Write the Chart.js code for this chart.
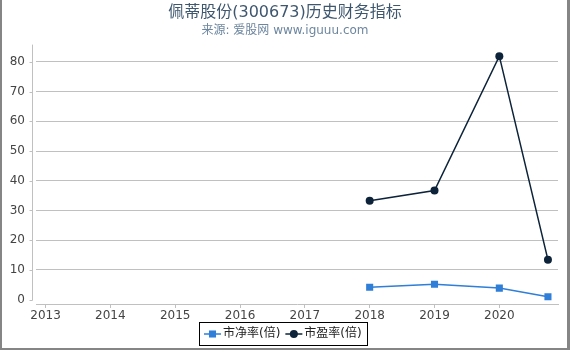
<!DOCTYPE html>
<html>
<head>
<meta charset="utf-8">
<script src="https://cdn.jsdelivr.net/npm/chart.js@4/dist/chart.umd.min.js"></script>
<style>
  html, body { margin: 0; padding: 0; background: #fff; }
</style>
</head>
<body>
<canvas id="graficoIndicadores" width="570" height="350"></canvas>
<script>
// Dados (ano decimal: 2020.75 = 3º trimestre de 2020)
const periodos = [2018, 2019, 2020, 2020.75];
const valoresPB = [4.2, 5.2, 3.9, 1.0];     // 市净率(倍)
const valoresPE = [33.3, 36.7, 81.9, 13.4]; // 市盈率(倍)
const anosEixoX = [2013, 2014, 2015, 2016, 2017, 2018, 2019, 2020];
const ticksEixoY = [0, 10, 20, 30, 40, 50, 60, 70, 80];

const fonte = '"DejaVu Sans", "Noto Sans CJK SC", sans-serif';

// Desenha a linha do eixo Y deslocada, a moldura e a legenda com caixa
const extrasPlugin = {
    id: 'extras',
    afterDraw(chart) {
        const ctx = chart.ctx;
        const area = chart.chartArea;
        const escalaY = chart.scales.y;
        ctx.save();

        // Eixo Y (um pouco à esquerda da área do gráfico)
        ctx.strokeStyle = '#c0c0c0';
        ctx.lineWidth = 1;
        const xEixo = Math.round(area.left - 4) + 0.5;
        const yZero = Math.round(escalaY.getPixelForValue(0)) + 0.5;
        ctx.beginPath();
        ctx.moveTo(xEixo, area.top);
        ctx.lineTo(xEixo, yZero);
        ticksEixoY.forEach(function(v) {
            const py = Math.round(escalaY.getPixelForValue(v)) + 0.5;
            ctx.moveTo(xEixo - 3, py);
            ctx.lineTo(xEixo, py);
        });
        ctx.stroke();

        // Legenda com borda
        ctx.font = '12px ' + fonte;
        ctx.textBaseline = 'middle';
        const itens = chart.data.datasets.map(function(ds) {
            return { texto: ds.label, cor: ds.borderColor, estilo: ds.pointStyle, raio: ds.pointRadius };
        });
        const larguraLinha = 17, espaco = 2, entreItens = 5, margem = 5;
        let total = margem * 2;
        itens.forEach(function(it, i) {
            total += larguraLinha + espaco + ctx.measureText(it.texto).width + (i ? entreItens : 0);
        });
        const esquerda = Math.round(chart.width / 2 - 2 - total / 2);
        const topo = 322, altura = 23;
        ctx.strokeStyle = '#000';
        ctx.strokeRect(esquerda + 0.5, topo + 0.5, Math.round(total), altura);

        let x = esquerda + margem;
        const yMeio = topo + altura / 2 + 0.5;
        itens.forEach(function(it) {
            ctx.strokeStyle = it.cor;
            ctx.fillStyle = it.cor;
            ctx.lineWidth = 1.5;
            ctx.beginPath();
            ctx.moveTo(x, yMeio);
            ctx.lineTo(x + larguraLinha, yMeio);
            ctx.stroke();
            Chart.helpers.drawPoint(ctx, { pointStyle: it.estilo, radius: it.raio, borderWidth: 0 }, x + larguraLinha / 2, yMeio);
            x += larguraLinha + espaco;
            ctx.fillStyle = '#222';
            ctx.fillText(it.texto, x, yMeio);
            x += ctx.measureText(it.texto).width + entreItens;
        });

        // Moldura cinza (esquerda, direita e embaixo)
        ctx.fillStyle = '#858585';
        ctx.fillRect(0, 0, 2, chart.height);
        ctx.fillRect(chart.width - 3, 0, 3, chart.height);
        ctx.fillRect(0, chart.height - 2, chart.width, 2);
        ctx.restore();
    }
};

const ctx = document.getElementById('graficoIndicadores').getContext('2d');
const grafico = new Chart(ctx, {
    type: 'line',
    data: {
        datasets: [{
            label: '市净率(倍)',
            data: periodos.map(function(p, i) { return { x: p, y: valoresPB[i] }; }),
            borderColor: '#2f7ed8',
            backgroundColor: '#2f7ed8',
            borderWidth: 1.5,
            pointStyle: 'rect',
            pointRadius: 5,
            pointBorderWidth: 0,
            tension: 0
        }, {
            label: '市盈率(倍)',
            data: periodos.map(function(p, i) { return { x: p, y: valoresPE[i] }; }),
            borderColor: '#0d233a',
            backgroundColor: '#0d233a',
            borderWidth: 1.5,
            pointStyle: 'circle',
            pointRadius: 4,
            pointBorderWidth: 0,
            tension: 0
        }]
    },
    options: {
        responsive: false,
        animation: false,
        layout: { padding: { top: 0, right: 0, bottom: 26, left: 0 } },
        scales: {
            x: {
                type: 'linear',
                min: 2012.853,
                max: 2020.905,
                afterBuildTicks: function(escala) {
                    escala.ticks = anosEixoX.map(function(v) { return { value: v }; });
                },
                afterFit: function(escala) {
                    escala.height = 20;
                    // margem direita só para a área do gráfico (título fica centrado na largura toda)
                    escala.paddingRight = 12;
                },
                ticks: {
                    autoSkip: false,
                    maxRotation: 0,
                    padding: 1,
                    color: '#444',
                    font: { family: fonte, size: 12 },
                    callback: function(v) { return String(v); }
                },
                grid: { drawOnChartArea: false, drawTicks: true, tickLength: 4, color: '#c0c0c0' },
                border: { display: true, color: '#c0c0c0' }
            },
            y: {
                min: -1.45,
                max: 85.8,
                afterBuildTicks: function(escala) {
                    escala.ticks = ticksEixoY.map(function(v) { return { value: v }; });
                },
                afterFit: function(escala) { escala.width = 36; },
                ticks: {
                    padding: 11,
                    color: '#444',
                    font: { family: fonte, size: 12 },
                    callback: function(v) { return String(v); }
                },
                grid: {
                    drawTicks: false,
                    color: function(c) { return c.tick && c.tick.value === 0 ? 'rgba(0,0,0,0)' : '#c0c0c0'; }
                },
                border: { display: false }
            }
        },
        plugins: {
            legend: { display: false },
            tooltip: { enabled: false },
            title: {
                display: true,
                text: '佩蒂股份(300673)历史财务指标',
                color: '#3e576f',
                font: { family: fonte, size: 16, weight: 'normal' },
                padding: { top: 3, bottom: 0 }
            },
            subtitle: {
                display: true,
                text: '来源: 爱股网 www.iguuu.com',
                color: '#6d869f',
                font: { family: fonte, size: 12, weight: 'normal' },
                padding: { top: 1, bottom: 7 }
            }
        }
    },
    plugins: [extrasPlugin]
});
</script>
</body>
</html>
